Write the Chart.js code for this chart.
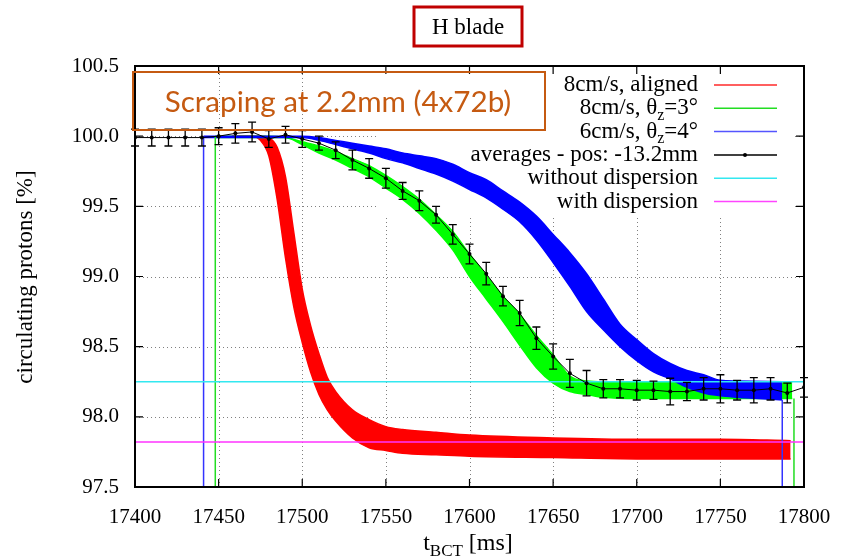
<!DOCTYPE html>
<html>
<head>
<meta charset="utf-8">
<title>H blade scraping</title>
<script src="https://cdn.jsdelivr.net/npm/chart.js@4.4.1/dist/chart.umd.min.js"></script>
<style>
  html, body { margin: 0; padding: 0; background: #fff; }
</style>
</head>
<body>
<canvas id="scrapeChart" width="855" height="559"></canvas>
<script>
// --- data ---
const avgTime = [17400, 17410, 17420, 17430, 17440, 17450, 17460, 17470, 17480, 17490,
                 17500, 17510, 17520, 17530, 17540, 17550, 17560, 17570, 17580, 17590,
                 17600, 17610, 17620, 17630, 17640, 17650, 17660, 17670, 17680, 17690,
                 17700, 17710, 17720, 17730, 17740, 17750, 17760, 17770, 17780, 17790, 17800];
const avgValue = [99.99, 99.99, 99.99, 99.99, 99.99, 100.00, 100.02, 100.03, 99.98, 100.01,
                  99.98, 99.95, 99.90, 99.83, 99.77, 99.70, 99.61, 99.54, 99.44, 99.30,
                  99.16, 99.02, 98.86, 98.74, 98.56, 98.43, 98.31, 98.24, 98.20, 98.20,
                  98.19, 98.19, 98.18, 98.18, 98.20, 98.20, 98.19, 98.19, 98.20, 98.17, 98.21];
const avgError = [0.06, 0.06, 0.06, 0.06, 0.06, 0.06, 0.07, 0.07, 0.06, 0.06,
                  0.06, 0.05, 0.06, 0.07, 0.07, 0.07, 0.06, 0.07, 0.06, 0.07,
                  0.07, 0.08, 0.07, 0.09, 0.08, 0.09, 0.10, 0.09, 0.065, 0.065,
                  0.07, 0.065, 0.095, 0.065, 0.08, 0.10, 0.07, 0.09, 0.08, 0.07, 0.07];

const redTime  = [17458, 17465, 17470, 17475, 17480, 17485, 17490, 17495, 17500, 17505, 17510, 17515,
                  17520, 17530, 17540, 17550, 17560, 17580, 17600, 17650, 17700, 17750, 17792];
const redUpper = [100.00, 100.00, 100.00, 100.00, 99.99, 99.92, 99.71, 99.31, 98.91, 98.65, 98.45, 98.28,
                  98.18, 98.05, 97.98, 97.93, 97.91, 97.89, 97.87, 97.85, 97.84, 97.84, 97.83];
const redLower = [100.00, 100.00, 100.00, 99.97, 99.86, 99.55, 99.13, 98.78, 98.53, 98.32, 98.16, 98.05,
                  97.97, 97.85, 97.78, 97.76, 97.74, 97.73, 97.72, 97.71, 97.70, 97.70, 97.70];

const greenTime  = [17448, 17480, 17490, 17500, 17510, 17520, 17530, 17540, 17550, 17560, 17570, 17580,
                    17590, 17600, 17610, 17620, 17630, 17640, 17650, 17660, 17670, 17680, 17700, 17750, 17793];
const greenUpper = [100.00, 100.00, 99.99, 99.96, 99.93, 99.89, 99.84, 99.79, 99.72, 99.64, 99.55, 99.44,
                    99.32, 99.16, 99.01, 98.86, 98.73, 98.58, 98.44, 98.29, 98.255, 98.25, 98.25, 98.25, 98.25];
const greenLower = [99.99, 99.99, 99.99, 99.94, 99.88, 99.83, 99.77, 99.71, 99.63, 99.55, 99.45, 99.33,
                    99.19, 99.00, 98.84, 98.68, 98.51, 98.35, 98.24, 98.18, 98.16, 98.14, 98.13, 98.13, 98.13];

const blueTime  = [17441, 17480, 17500, 17510, 17520, 17530, 17540, 17550, 17560, 17570, 17580, 17590,
                   17600, 17610, 17620, 17630, 17640, 17650, 17660, 17670, 17680, 17690, 17700, 17710,
                   17720, 17730, 17740, 17750, 17760, 17787];
const blueUpper = [100.00, 100.00, 100.00, 99.99, 99.97, 99.95, 99.93, 99.91, 99.88, 99.86, 99.84, 99.80,
                   99.74, 99.69, 99.61, 99.53, 99.43, 99.30, 99.17, 99.02, 98.84, 98.66, 98.55, 98.45,
                   98.38, 98.33, 98.30, 98.26, 98.255, 98.25];
const blueLower = [99.99, 99.99, 99.99, 99.97, 99.94, 99.91, 99.88, 99.84, 99.81, 99.77, 99.73, 99.68,
                   99.62, 99.56, 99.48, 99.39, 99.26, 99.10, 98.93, 98.75, 98.62, 98.50, 98.40, 98.32,
                   98.27, 98.21, 98.17, 98.15, 98.14, 98.12];

// drop lines at the start / end of the blue and green runs
const blueEdgeTime = [17441, 17787];
const blueEdgeTop  = [100.00, 98.12];
const greenEdgeTime = [17448, 17794];
const greenEdgeTop  = [100.00, 98.13];

const withoutDispersion = 98.25;
const withDispersion = 97.82;

const xMin = 17400, xMax = 17800, xStep = 50;
const yMin = 97.5, yMax = 100.5, yStep = 0.5;

// --- helpers ---
const serif = '"Liberation Serif", "DejaVu Serif", serif';
function pts(times, values) {
    return times.map((t, i) => ({ x: t, y: values[i] }));
}
function dropLine(t, top) {
    return [{ x: t, y: top }, { x: t, y: yMin }];
}

const legendItems = [
    { parts: ['8cm/s, aligned'], color: '#ff2a2a' },
    { parts: ['8cm/s, θ', 'z', '=3°'], color: '#22dd22' },
    { parts: ['6cm/s, θ', 'z', '=4°'], color: '#5555ff' },
    { parts: ['averages - pos: -13.2mm'], color: '#000', dot: true },
    { parts: ['without dispersion'], color: '#33e8f0' },
    { parts: ['with dispersion'], color: '#ff44ff' }
];

// grid, key background, border and inward ticks (gnuplot style)
const framePlugin = {
    id: 'frame',
    beforeDatasetsDraw(chart) {
        const { ctx, chartArea: a, scales: { x, y } } = chart;
        ctx.save();
        ctx.strokeStyle = '#808080';
        ctx.lineWidth = 1;
        ctx.setLineDash([1, 3]);
        x.ticks.forEach(t => {
            if (t.value <= xMin || t.value >= xMax) return;
            const p = Math.round(x.getPixelForValue(t.value)) + 0.5;
            ctx.beginPath(); ctx.moveTo(p, a.top); ctx.lineTo(p, a.bottom); ctx.stroke();
        });
        y.ticks.forEach(t => {
            if (t.value <= yMin || t.value >= yMax) return;
            const p = Math.round(y.getPixelForValue(t.value)) + 0.5;
            ctx.beginPath(); ctx.moveTo(a.left, p); ctx.lineTo(a.right, p); ctx.stroke();
        });
        ctx.setLineDash([]);
        // opaque key area
        ctx.fillStyle = '#fff';
        ctx.fillRect(377, a.top + 1, 416, 215 - a.top);
        ctx.restore();
    },
    afterDraw(chart) {
        const { ctx, chartArea: a, scales: { x, y } } = chart;
        ctx.save();
        ctx.strokeStyle = '#000';
        ctx.lineWidth = 1.2;
        x.ticks.forEach(t => {
            const p = x.getPixelForValue(t.value);
            ctx.beginPath();
            ctx.moveTo(p, a.bottom); ctx.lineTo(p, a.bottom - 8);
            ctx.moveTo(p, a.top); ctx.lineTo(p, a.top + 8);
            ctx.stroke();
        });
        y.ticks.forEach(t => {
            const p = y.getPixelForValue(t.value);
            ctx.beginPath();
            ctx.moveTo(a.left, p); ctx.lineTo(a.left + 8, p);
            ctx.moveTo(a.right, p); ctx.lineTo(a.right - 8, p);
            ctx.stroke();
        });
        ctx.lineWidth = 2;
        ctx.strokeRect(a.left, a.top, a.right - a.left, a.bottom - a.top);

        // axis titles
        ctx.fillStyle = '#000';
        ctx.font = '23px ' + serif;
        ctx.textAlign = 'center';
        ctx.textBaseline = 'middle';
        ctx.save();
        ctx.translate(26, 277);
        ctx.rotate(-Math.PI / 2);
        ctx.fillText('circulating protons [%]', 0, 0);
        ctx.restore();

        ctx.textAlign = 'left';
        ctx.textBaseline = 'alphabetic';
        const big = '24px ' + serif, small = '17px ' + serif;
        ctx.font = big; const w1 = ctx.measureText('t').width;
        ctx.font = small; const w2 = ctx.measureText('BCT').width;
        ctx.font = big; const w3 = ctx.measureText(' [ms]').width;
        let px = 468 - (w1 + w2 + w3) / 2;
        const base = 550;
        ctx.font = big; ctx.fillText('t', px, base); px += w1;
        ctx.font = small; ctx.fillText('BCT', px, base + 6); px += w2;
        ctx.font = big; ctx.fillText(' [ms]', px, base);

        // title box
        ctx.strokeStyle = '#c00000';
        ctx.lineWidth = 3;
        ctx.strokeRect(414, 7, 108, 39);
        ctx.font = '23px ' + serif;
        ctx.textAlign = 'center';
        ctx.textBaseline = 'middle';
        ctx.fillText('H blade', 468, 28);

        // scraping note
        ctx.strokeStyle = '#c55a11';
        ctx.lineWidth = 2;
        ctx.strokeRect(133, 72, 412, 58);
        ctx.fillStyle = '#c55a11';
        ctx.font = '100px Lato';
        const scale = 347 / ctx.measureText('Scraping at 2.2mm (4x72b)').width;
        ctx.font = (100 * scale).toFixed(1) + 'px Lato';
        ctx.fillText('Scraping at 2.2mm (4x72b)', 338, 102);

        // key
        ctx.textAlign = 'left';
        ctx.textBaseline = 'middle';
        legendItems.forEach((item, i) => {
            const cy = 85 + i * 23.3;
            const fonts = item.parts.map((_, k) => (k === 1 ? '16px ' : '23px ') + serif);
            const widths = item.parts.map((p, k) => { ctx.font = fonts[k]; return ctx.measureText(p).width; });
            let tx = 698 - widths.reduce((s, w) => s + w, 0);
            ctx.fillStyle = '#000';
            item.parts.forEach((p, k) => {
                ctx.font = fonts[k];
                ctx.fillText(p, tx, k === 1 ? cy + 7 : cy);
                tx += widths[k];
            });
            ctx.strokeStyle = item.color;
            ctx.lineWidth = 1.5;
            ctx.beginPath(); ctx.moveTo(714, cy); ctx.lineTo(777, cy); ctx.stroke();
            if (item.dot) {
                ctx.fillStyle = item.color;
                ctx.beginPath(); ctx.arc(745, cy, 2, 0, Math.PI * 2); ctx.fill();
            }
        });
        ctx.restore();
    }
};

const errorBarPlugin = {
    id: 'errorBars',
    afterDatasetsDraw(chart) {
        const { ctx, scales: { x, y } } = chart;
        ctx.save();
        ctx.strokeStyle = '#000';
        ctx.lineWidth = 1.3;
        avgTime.forEach((t, i) => {
            const px = x.getPixelForValue(t);
            const top = y.getPixelForValue(avgValue[i] + avgError[i]);
            const bot = y.getPixelForValue(avgValue[i] - avgError[i]);
            ctx.beginPath();
            ctx.moveTo(px, top); ctx.lineTo(px, bot);
            ctx.moveTo(px - 4, top); ctx.lineTo(px + 4, top);
            ctx.moveTo(px - 4, bot); ctx.lineTo(px + 4, bot);
            ctx.stroke();
        });
        ctx.restore();
    }
};

const band = (data, color, fill, order) => ({
    data, borderColor: color, backgroundColor: color, borderWidth: 1.5,
    fill, order, pointRadius: 0, cubicInterpolationMode: 'monotone'
});
const plain = (data, color, width, order) => ({
    data, borderColor: color, borderWidth: width, fill: false, order, pointRadius: 0
});

function drawChart() {
    new Chart(document.getElementById('scrapeChart'), {
        type: 'line',
        data: {
            datasets: [
                {
                    label: 'averages - pos: -13.2mm',
                    data: pts(avgTime, avgValue),
                    borderColor: '#000', borderWidth: 1, order: 0,
                    pointRadius: 2, pointBackgroundColor: '#000', pointBorderWidth: 0, fill: false
                },
                plain([{ x: xMin, y: withoutDispersion }, { x: xMax, y: withoutDispersion }], '#33e8f0', 1.5, 1),
                plain([{ x: xMin, y: withDispersion }, { x: xMax, y: withDispersion }], '#ff33ff', 1.5, 1),
                plain(dropLine(blueEdgeTime[0], blueEdgeTop[0]), '#3333ff', 1.5, 2),
                plain(dropLine(blueEdgeTime[1], blueEdgeTop[1]), '#3333ff', 1.5, 2),
                plain(dropLine(greenEdgeTime[0], greenEdgeTop[0]), '#22dd22', 1.5, 2),
                plain(dropLine(greenEdgeTime[1], greenEdgeTop[1]), '#22dd22', 1.5, 2),
                band(pts(blueTime, blueUpper), '#0000ff', '+1', 3),
                band(pts(blueTime, blueLower), '#0000ff', false, 3),
                band(pts(greenTime, greenUpper), '#00ff00', '+1', 4),
                band(pts(greenTime, greenLower), '#00ff00', false, 4),
                band(pts(redTime, redUpper), '#ff0000', '+1', 5),
                band(pts(redTime, redLower), '#ff0000', false, 5)
            ]
        },
        options: {
            responsive: false,
            animation: false,
            events: [],
            layout: { padding: { top: 66, right: 51, left: 0, bottom: 0 } },
            plugins: { legend: { display: false }, tooltip: { enabled: false } },
            scales: {
                x: {
                    type: 'linear', min: xMin, max: xMax,
                    grid: { display: false }, border: { display: false },
                    ticks: {
                        stepSize: xStep, color: '#000', padding: 10,
                        font: { family: serif, size: 21 },
                        callback: v => String(v)
                    },
                    afterFit: s => { s.height = 72; }
                },
                y: {
                    min: yMin, max: yMax,
                    grid: { display: false }, border: { display: false },
                    ticks: {
                        stepSize: yStep, color: '#000', padding: 8,
                        font: { family: serif, size: 21 },
                        callback: v => v.toFixed(1)
                    },
                    afterFit: s => { s.width = 135; }
                }
            }
        },
        plugins: [framePlugin, errorBarPlugin]
    });
}

Promise.all([
    document.fonts.load('21px "Liberation Serif"'),
    document.fonts.load('28px Lato')
]).catch(() => {}).then(drawChart);
</script>
</body>
</html>
